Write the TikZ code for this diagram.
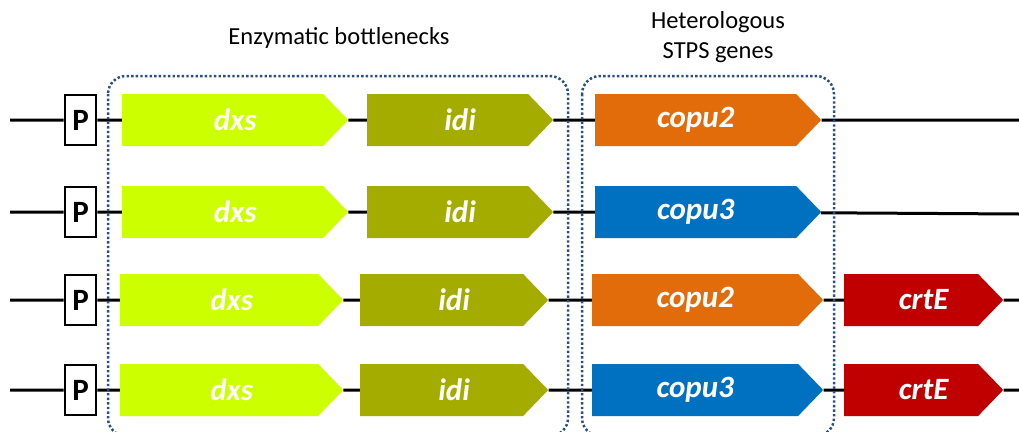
\documentclass[tikz,border=0pt]{standalone}
\usepackage{fontspec}
\setmainfont{Carlito}
\usetikzlibrary{shapes.symbols}

\definecolor{dxscol}{RGB}{204,255,0}
\definecolor{idicol}{RGB}{165,172,0}
\definecolor{copuorange}{RGB}{227,108,10}
\definecolor{copublue}{RGB}{0,112,192}
\definecolor{crtecol}{RGB}{192,0,0}
\definecolor{groupcol}{RGB}{40,80,130}

\tikzset{
  wire/.style={draw=black,line width=3pt},
  pbox/.style={draw=black,fill=white,line width=2.8pt,inner sep=0pt,
    minimum width=31pt,minimum height=50pt,font=\bfseries\fontsize{31}{32}\selectfont},
  genebody/.style={signal,signal to=east,signal pointer angle=92,inner sep=0pt,
    minimum height=52pt,anchor=west,text=white,
    font=\bfseries\itshape\fontsize{31}{32}\selectfont},
  gene/.style={genebody,execute at begin node={\hspace*{25pt}}},
  groupbox/.style={draw=groupcol,line width=2.5pt,dash pattern=on 2.4pt off 2.2pt,
    rounded corners=18pt},
  grouplabel/.style={font=\fontsize{24.5}{30}\selectfont,align=center}
}

\begin{document}
\begin{tikzpicture}[x=1pt,y=-1pt]
  \useasboundingbox[fill=white] (0,0) rectangle (1019,431);
  % Row 1: P dxs idi copu2
  \coordinate (s1) at (10,120);
  \coordinate (e1) at (1019,120);
  \node[pbox] (p1) at (80.5,120) {P};
  \node[gene,fill=dxscol,minimum width=226pt] (dxs1) at (122,120) {dxs};
  \node[gene,fill=idicol,minimum width=186pt] (idi1) at (367,120) {idi};
  \node[genebody,fill=copuorange,minimum width=226pt] (copu1) at (595,120) {copu2};
  % Row 2: P dxs idi copu3
  \coordinate (s2) at (10,212);
  \coordinate (e2) at (1019,214);
  \node[pbox] (p2) at (80.5,212) {P};
  \node[gene,fill=dxscol,minimum width=226pt] (dxs2) at (122,212) {dxs};
  \node[gene,fill=idicol,minimum width=186pt] (idi2) at (367,212) {idi};
  \node[genebody,fill=copublue,minimum width=226pt] (copu2) at (595,212) {copu3};
  % Row 3: P dxs idi copu2 crtE
  \coordinate (s3) at (10,300);
  \coordinate (e3) at (1019,300);
  \node[pbox] (p3) at (80.5,300) {P};
  \node[gene,fill=dxscol,minimum width=223pt] (dxs3) at (120,300) {dxs};
  \node[gene,fill=idicol,minimum width=188pt] (idi3) at (360,300) {idi};
  \node[genebody,fill=copuorange,minimum width=231pt] (copu3) at (592,300) {copu2};
  \node[gene,fill=crtecol,minimum width=159pt] (crte3) at (844,300) {crtE};
  % Row 4: P dxs idi copu3 crtE
  \coordinate (s4) at (10,390);
  \coordinate (e4) at (1019,390);
  \node[pbox] (p4) at (80.5,390) {P};
  \node[gene,fill=dxscol,minimum width=223pt] (dxs4) at (120,390) {dxs};
  \node[gene,fill=idicol,minimum width=188pt] (idi4) at (360,390) {idi};
  \node[genebody,fill=copublue,minimum width=231pt] (copu4) at (592,390) {copu3};
  \node[gene,fill=crtecol,minimum width=159pt] (crte4) at (844,390) {crtE};
  % Drawing wires
  \draw[wire] (s1) -- (p1) -- (dxs1) -- (idi1) -- (copu1) -- (e1);
  \draw[wire] (s2) -- (p2) -- (dxs2) -- (idi2) -- (copu2) -- (e2);
  \draw[wire] (s3) -- (p3) -- (dxs3) -- (idi3) -- (copu3) -- (crte3) -- (e3);
  \draw[wire] (s4) -- (p4) -- (dxs4) -- (idi4) -- (copu4) -- (crte4) -- (e4);
  % Groups
  \draw[groupbox] (108,76) rectangle (568,436);
  \draw[groupbox] (582,76) rectangle (834,436);
  \node[grouplabel] (bottlenecks) at (339,38) {Enzymatic bottlenecks};
  \node[grouplabel] (stps) at (718,37) {Heterologous\\STPS genes};
\end{tikzpicture}
\end{document}
